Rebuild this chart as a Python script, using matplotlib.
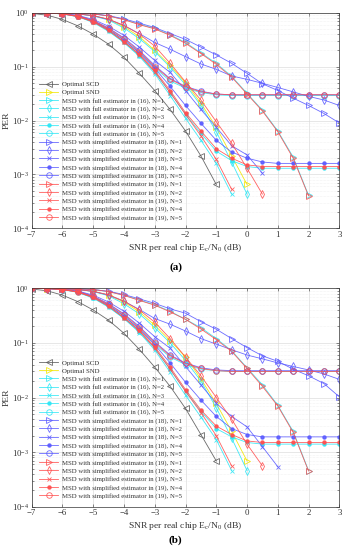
import numpy as np
import matplotlib
matplotlib.use('Agg')
import matplotlib.pyplot as plt
from matplotlib.ticker import LogLocator, NullFormatter

plt.rcParams['font.family'] = ['Liberation Serif', 'DejaVu Serif']
plt.rcParams['mathtext.fontset'] = 'custom'
plt.rcParams['mathtext.rm'] = 'Liberation Serif'
plt.rcParams['mathtext.it'] = 'Liberation Serif:italic'
plt.rcParams['mathtext.default'] = 'regular'

snr_db = [-7, -6.5, -6, -5.5, -5, -4.5, -4, -3.5, -3, -2.5, -2, -1.5, -1,
          -0.5, 0, 0.5, 1, 1.5, 2, 2.5, 3]

labels = ["Optimal SCD", "Optimal SND"] + \
    [f"MSD with full estimator in (16), N={n}" for n in range(1, 6)] + \
    [f"MSD with simplified estimator in (18), N={n}" for n in range(1, 6)] + \
    [f"MSD with simplified estimator in (19), N={n}" for n in range(1, 6)]

# ---------------- panel (a) ----------------
a_scd = [0.97, 0.90, 0.75, 0.57, 0.40, 0.26, 0.149, 0.075, 0.036, 0.016, 0.0064, 0.0022, 0.00065]
a_snd = [1.0, 0.99, 0.98, 0.95, 0.88, 0.75, 0.55, 0.36, 0.20, 0.105, 0.050, 0.021, 0.0075, 0.0022, 0.00065]
a_f1 = [1.0, 1.0, 0.99, 0.98, 0.95, 0.87, 0.75, 0.61, 0.51, 0.39, 0.28, 0.18, 0.115, 0.066, 0.032, 0.0155, 0.0064, 0.0021, 0.00041]
a_f2 = [1.0, 0.99, 0.98, 0.95, 0.87, 0.73, 0.52, 0.33, 0.19, 0.098, 0.046, 0.019, 0.0062, 0.0017, 0.00043]
a_f3 = [1.0, 0.99, 0.95, 0.84, 0.66, 0.45, 0.28, 0.155, 0.074, 0.029, 0.011, 0.0043, 0.0016, 0.00043]
a_f4 = [1.0, 0.99, 0.95, 0.85, 0.67, 0.46, 0.28, 0.16, 0.08, 0.033, 0.013, 0.0058, 0.0027, 0.0018, 0.0014,
        0.0013, 0.0013, 0.0013, 0.0013, 0.0013, 0.0013]
a_f5 = [1.0, 0.99, 0.95, 0.86, 0.69, 0.49, 0.31, 0.18, 0.095, 0.054, 0.040, 0.033, 0.030, 0.029, 0.029,
        0.029, 0.029, 0.029, 0.029, 0.029, 0.029]
a_s1 = [1.0, 1.0, 0.99, 0.98, 0.95, 0.88, 0.77, 0.64, 0.53, 0.41, 0.32, 0.23, 0.165, 0.115, 0.075, 0.048,
        0.036, 0.026, 0.019, 0.0135, 0.009]
a_s2 = [1.0, 0.99, 0.98, 0.95, 0.88, 0.75, 0.58, 0.41, 0.28, 0.21, 0.153, 0.112, 0.089, 0.067, 0.058, 0.049,
        0.041, 0.034, 0.028, 0.024, 0.019]
a_s3 = [1.0, 0.99, 0.96, 0.89, 0.75, 0.56, 0.38, 0.23, 0.13, 0.078, 0.036, 0.016, 0.0075, 0.0034, 0.0023, 0.00105]
a_s4 = [1.0, 0.99, 0.96, 0.87, 0.70, 0.49, 0.31, 0.18, 0.093, 0.043, 0.019, 0.0089, 0.0043, 0.0026, 0.0020,
        0.0017, 0.0016, 0.0016, 0.0016, 0.0016, 0.0016]
a_s5 = [1.0, 0.99, 0.96, 0.88, 0.72, 0.52, 0.34, 0.20, 0.105, 0.060, 0.043, 0.035, 0.031, 0.030, 0.030,
        0.030, 0.030, 0.030, 0.030, 0.030, 0.030]
a_r1 = [1.0, 1.0, 0.99, 0.98, 0.95, 0.87, 0.74, 0.60, 0.50, 0.38, 0.27, 0.175, 0.11, 0.064, 0.031, 0.015, 0.0062, 0.0020, 0.00040]
a_r2 = [1.0, 0.99, 0.98, 0.95, 0.88, 0.76, 0.58, 0.40, 0.24, 0.115, 0.052, 0.024, 0.0095, 0.0038, 0.0013, 0.00043]
a_r3 = [1.0, 0.99, 0.95, 0.85, 0.68, 0.47, 0.29, 0.165, 0.08, 0.033, 0.013, 0.0052, 0.0019, 0.00053]
a_r4 = [1.0, 0.99, 0.95, 0.85, 0.68, 0.47, 0.29, 0.17, 0.085, 0.036, 0.014, 0.0064, 0.0030, 0.0020, 0.0015,
        0.0014, 0.0014, 0.0014, 0.0014, 0.0014, 0.0014]
a_r5 = [1.0, 0.99, 0.96, 0.87, 0.71, 0.51, 0.33, 0.19, 0.10, 0.058, 0.042, 0.034, 0.031, 0.030, 0.030,
        0.030, 0.030, 0.030, 0.030, 0.030, 0.030]

# ---------------- panel (b) ----------------
b_scd = [0.97, 0.90, 0.75, 0.57, 0.40, 0.26, 0.15, 0.076, 0.036, 0.016, 0.0063, 0.0021, 0.00069]
b_snd = [1.0, 0.99, 0.98, 0.95, 0.88, 0.75, 0.56, 0.37, 0.21, 0.11, 0.055, 0.022, 0.0078, 0.0024, 0.00069]
b_f1 = [1.0, 1.0, 0.99, 0.98, 0.95, 0.87, 0.75, 0.61, 0.50, 0.38, 0.27, 0.19, 0.12, 0.072, 0.035, 0.017, 0.0072, 0.0024, 0.00046]
b_f2 = [1.0, 0.99, 0.98, 0.95, 0.87, 0.73, 0.52, 0.34, 0.19, 0.10, 0.048, 0.020, 0.0065, 0.0018, 0.00046]
b_f3 = [1.0, 0.99, 0.95, 0.84, 0.66, 0.45, 0.28, 0.155, 0.074, 0.029, 0.011, 0.0044, 0.0017, 0.00046]
b_f4 = [1.0, 0.99, 0.95, 0.85, 0.67, 0.46, 0.28, 0.16, 0.08, 0.033, 0.013, 0.0056, 0.0027, 0.0019, 0.0015,
        0.0014, 0.0014, 0.0014, 0.0014, 0.0014, 0.0014]
b_f5 = [1.0, 0.99, 0.95, 0.86, 0.69, 0.49, 0.31, 0.18, 0.095, 0.055, 0.040, 0.033, 0.031, 0.030, 0.030,
        0.030, 0.030, 0.030, 0.030, 0.030, 0.030]
b_s1 = [1.0, 1.0, 0.99, 0.98, 0.95, 0.88, 0.77, 0.64, 0.53, 0.42, 0.35, 0.245, 0.178, 0.12, 0.082, 0.058,
        0.046, 0.033, 0.025, 0.018, 0.0103]
b_s2 = [1.0, 0.99, 0.98, 0.95, 0.88, 0.75, 0.58, 0.41, 0.28, 0.22, 0.165, 0.12, 0.095, 0.075, 0.060, 0.051,
        0.043, 0.037, 0.032, 0.027, 0.0215]
b_s3 = [1.0, 0.99, 0.96, 0.89, 0.75, 0.56, 0.38, 0.23, 0.13, 0.08, 0.037, 0.017, 0.0078, 0.0045, 0.0029, 0.00126, 0.00054]
b_s4 = [1.0, 0.99, 0.96, 0.87, 0.70, 0.49, 0.31, 0.18, 0.093, 0.043, 0.019, 0.0090, 0.0045, 0.0027, 0.0021,
        0.0019, 0.0019, 0.0019, 0.0019, 0.0019, 0.0019]
b_s5 = [1.0, 0.99, 0.96, 0.88, 0.72, 0.52, 0.34, 0.20, 0.105, 0.060, 0.043, 0.035, 0.032, 0.031, 0.031,
        0.031, 0.031, 0.031, 0.031, 0.031, 0.031]
b_r1 = [1.0, 1.0, 0.99, 0.98, 0.95, 0.87, 0.74, 0.60, 0.49, 0.37, 0.27, 0.18, 0.115, 0.07, 0.034, 0.016, 0.0070, 0.0023, 0.00045]
b_r2 = [1.0, 0.99, 0.98, 0.95, 0.88, 0.76, 0.58, 0.40, 0.24, 0.12, 0.055, 0.025, 0.0100, 0.0040, 0.0014, 0.00056]
b_r3 = [1.0, 0.99, 0.95, 0.85, 0.68, 0.47, 0.29, 0.165, 0.08, 0.033, 0.013, 0.0053, 0.0020, 0.00056]
b_r4 = [1.0, 0.99, 0.95, 0.85, 0.68, 0.47, 0.29, 0.17, 0.085, 0.036, 0.014, 0.0059, 0.0030, 0.0021, 0.0016,
        0.0015, 0.0015, 0.0015, 0.0015, 0.0015, 0.0015]
b_r5 = [1.0, 0.99, 0.96, 0.87, 0.71, 0.51, 0.33, 0.19, 0.10, 0.058, 0.042, 0.034, 0.031, 0.030, 0.030,
        0.030, 0.030, 0.030, 0.030, 0.030, 0.030]

panel_a = [a_scd, a_snd, a_f1, a_f2, a_f3, a_f4, a_f5, a_s1, a_s2, a_s3, a_s4, a_s5, a_r1, a_r2, a_r3, a_r4, a_r5]
panel_b = [b_scd, b_snd, b_f1, b_f2, b_f3, b_f4, b_f5, b_s1, b_s2, b_s3, b_s4, b_s5, b_r1, b_r2, b_r3, b_r4, b_r5]

GRAY = '#5a5a5a'
YEL = '#f2e600'
CYAN = '#2ee6f5'
BLUE = '#5c5cff'
RED = '#ff5050'
colors = [GRAY, YEL] + [CYAN] * 5 + [BLUE] * 5 + [RED] * 5
mk_cycle = ['>', 'd', 'x', 'o', 'o']
markers = ['<', '>'] + mk_cycle * 3
filled = [False, False] + [False, False, False, True, False] * 3

fig = plt.figure(figsize=(3.51, 5.5), dpi=100)
W, H = 351.0, 550.0
axes_px = [(12.7, 228.3), (288.3, 506.7)]
panel_tags = ['(a)', '(b)']
tag_y = [267, 540]

for pi, data in enumerate([panel_a, panel_b]):
    top, bot = axes_px[pi]
    ax = fig.add_axes([31.7 / W, 1 - bot / H, (339.3 - 31.7) / W, (bot - top) / H])
    ax.set_yscale('log')
    handles = []
    for i, vals in enumerate(data):
        x = snr_db[:len(vals)]
        m = markers[i]
        if filled[i]:
            kw = dict(marker='o', markersize=2.2, markerfacecolor=colors[i], markeredgecolor=colors[i])
        elif m == 'x':
            kw = dict(marker='x', markersize=2.8, markeredgewidth=0.6, markeredgecolor=colors[i])
        else:
            ms = 4.0 if m in ('<', '>', 'o') else 3.8
            kw = dict(marker=m, markersize=ms, markerfacecolor='none', markeredgecolor=colors[i],
                      markeredgewidth=0.6)
        h, = ax.plot(x, vals, color=colors[i], lw=0.6, label=labels[i], alpha=0.9, **kw)
        handles.append(h)
    ax.set_xlim(-7, 3)
    ax.set_ylim(1e-4, 1)
    ax.set_xticks(range(-7, 4))
    ax.yaxis.set_major_locator(LogLocator(base=10, numticks=10))
    ax.yaxis.set_minor_locator(LogLocator(base=10, subs=np.arange(2, 10), numticks=20))
    ax.yaxis.set_minor_formatter(NullFormatter())
    ax.grid(True, which='major', color='#d9d9d9', lw=0.45)
    ax.grid(True, which='minor', axis='y', color='#e6e6e6', lw=0.4, ls=(0, (1, 1.5)))
    ax.set_axisbelow(True)
    for s in ax.spines.values():
        s.set_linewidth(0.5)
        s.set_color('#333333')
    ax.tick_params(which='both', direction='in', top=True, right=True, width=0.4,
                   labelsize=6.3, pad=2, colors='#333333', labelcolor='#333333')
    ax.tick_params(which='major', length=2)
    ax.tick_params(which='minor', length=1.2)
    ax.set_xlabel(r'SNR per real chip E$_c$/N$_0$ (dB)', fontsize=6.8, labelpad=2, color='#333333')
    ax.set_ylabel('PER', fontsize=6.8, labelpad=1, color='#333333')
    leg = ax.legend(handles=handles, loc='lower left', bbox_to_anchor=(0.024, 0.035),
                    frameon=False, fontsize=4.9, handlelength=2.8, handletextpad=0.55,
                    labelspacing=0.33, borderpad=0, borderaxespad=0)
    for t in leg.get_texts():
        t.set_color('#333333')
    fig.text(0.5, 1 - tag_y[pi] / H, panel_tags[pi], ha='center', va='center',
             fontsize=8, fontweight='bold')

fig.savefig('out.png', dpi=100)
